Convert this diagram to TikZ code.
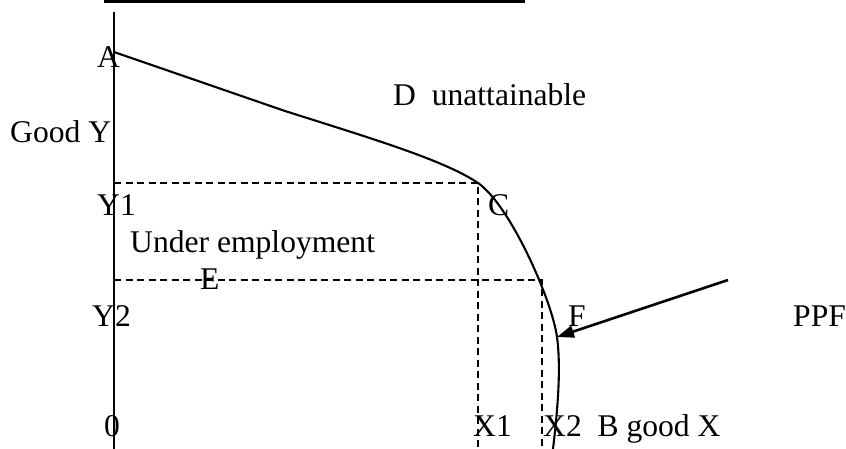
\documentclass[tikz,border=0pt]{standalone}
\usepackage{fontspec}
\setmainfont{Liberation Serif}
\usetikzlibrary{arrows.meta}
\begin{document}
\begin{tikzpicture}[x=1pt,y=-1pt,
  lbl/.style={anchor=base west,inner sep=0pt,font=\fontsize{31.6}{38}\selectfont},
  axis/.style={line width=2pt},
  guide/.style={line width=1.8pt,dash pattern=on 7pt off 4.5pt},
  curveline/.style={line width=2.1pt},
  pointer/.style={line width=2.6pt,-{Triangle[length=17pt,width=12pt]}}]
\useasboundingbox (0,0) rectangle (846,449);
% top bar
\fill (104,0) rectangle (525,2.6);
% axis
\coordinate (ytop) at (114,12);
\coordinate (ybot) at (114,449);
\draw[axis] (ytop) -- (ybot);
% coordinates
\coordinate (Apt) at (114,52);
\coordinate (Mpt) at (285,111);
\coordinate (Cpt) at (478,183);
\coordinate (Fpt) at (542,280);
\coordinate (Y1) at (114,183);
\coordinate (Y2) at (114,280);
\coordinate (X1) at (478,449);
\coordinate (X2) at (542,449);
\coordinate (tip) at (557,337);
\coordinate (tail) at (728,280);
\coordinate (Bend) at (553,449);
% dashed guides
\draw[guide] (Y1) -- (Cpt) -- (X1);
\draw[guide] (Y2) -- (Fpt) -- (X2);
% PPF curve
\draw[curveline] (Apt) -- (Mpt)
  .. controls (370,138) and (444,160) .. (Cpt)
  .. controls (510,205) and (552,300) .. (tip)
  .. controls (561.5,370) and (557,415) .. (Bend);
% arrow
\draw[pointer] (tail) -- (tip);
% labels
\node[lbl] (lA) at (97,68) {A};
\node[lbl] (lGood) at (10,143) {Good Y};
\node[lbl] (lD) at (393,106) {D~~unattainable};
\node[lbl] (lY1) at (97,215) {Y1};
\node[lbl] (lC) at (488,215) {C};
\node[lbl] (lUnder) at (130,252) {Under employment};
\node[lbl] (lE) at (200,289) {E};
\node[lbl] (lY2) at (92,326) {Y2};
\node[lbl] (lF) at (568,326) {F};
\node[lbl] (lPPF) at (793,326) {PPF};
\node[lbl] (l0) at (104,436) {0};
\node[lbl] (lX1) at (473,436) {X1};
\node[lbl] (lX2) at (543,436) {X2~~B good X};
\end{tikzpicture}
\end{document}
